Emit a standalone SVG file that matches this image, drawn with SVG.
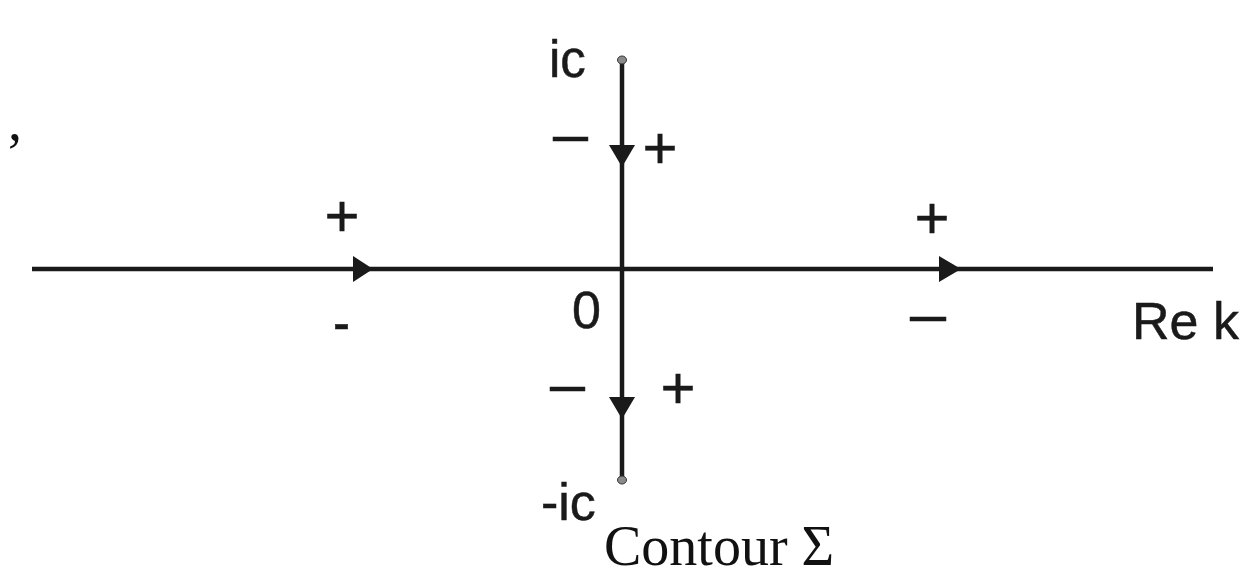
<svg xmlns="http://www.w3.org/2000/svg" width="1247" height="576" viewBox="0 0 1247 576">
<style>
.ax{stroke:#1a1a1a;stroke-width:4.5;fill:none}
.ah{fill:#1a1a1a}
.sf{font-family:"Liberation Sans",Arial,sans-serif;fill:#1a1a1a;stroke:#1a1a1a;stroke-width:0.5}
.sr{font-family:"Liberation Serif","Times New Roman",serif;fill:#111}
.dot{fill:#8a8a8a;stroke:#333;stroke-width:1}
</style>
<rect width="1247" height="576" fill="#fff"/>
<g id="connectors">
<line class="ax" x1="32" y1="269" x2="1213" y2="269"/>
<line class="ax" x1="622" y1="60" x2="622" y2="480"/>
<polygon class="ah" points="353,256 373,269 353,282"/>
<polygon class="ah" points="939,256 961,269 939,282"/>
<polygon class="ah" points="609,145 635,145 622,167"/>
<polygon class="ah" points="609,397 635,397 622,419"/>
<ellipse class="dot" cx="622" cy="60" rx="4.5" ry="4"/>
<ellipse class="dot" cx="622" cy="480" rx="4.5" ry="4"/>
</g>
<g id="labels">
<text class="sr" x="8" y="140" font-size="56">,</text>
<text class="sf" x="549" y="77" font-size="51">ic</text>
<text class="sf" x="541" y="520" font-size="52">-ic</text>
<text class="sf" x="572" y="328" font-size="52">0</text>
<text class="sf" x="1132" y="339" font-size="52">Re k</text>
<text class="sf" x="342" y="236" font-size="60" text-anchor="middle">+</text>
<text class="sf" x="932" y="238" font-size="60" text-anchor="middle">+</text>
<text class="sf" x="660" y="168" font-size="60" text-anchor="middle">+</text>
<text class="sf" x="678" y="408" font-size="60" text-anchor="middle">+</text>
<text class="sf" x="553" y="154" font-size="60" textLength="35" lengthAdjust="spacingAndGlyphs">–</text>
<text class="sf" x="550" y="404" font-size="60" textLength="35" lengthAdjust="spacingAndGlyphs">–</text>
<text class="sf" x="910" y="334" font-size="60" textLength="36" lengthAdjust="spacingAndGlyphs">–</text>
<text class="sf" x="333" y="342" font-size="60" textLength="17" lengthAdjust="spacingAndGlyphs">-</text>
<text class="sr" x="604" y="565" font-size="56">Contour Σ</text>
</g>
</svg>
